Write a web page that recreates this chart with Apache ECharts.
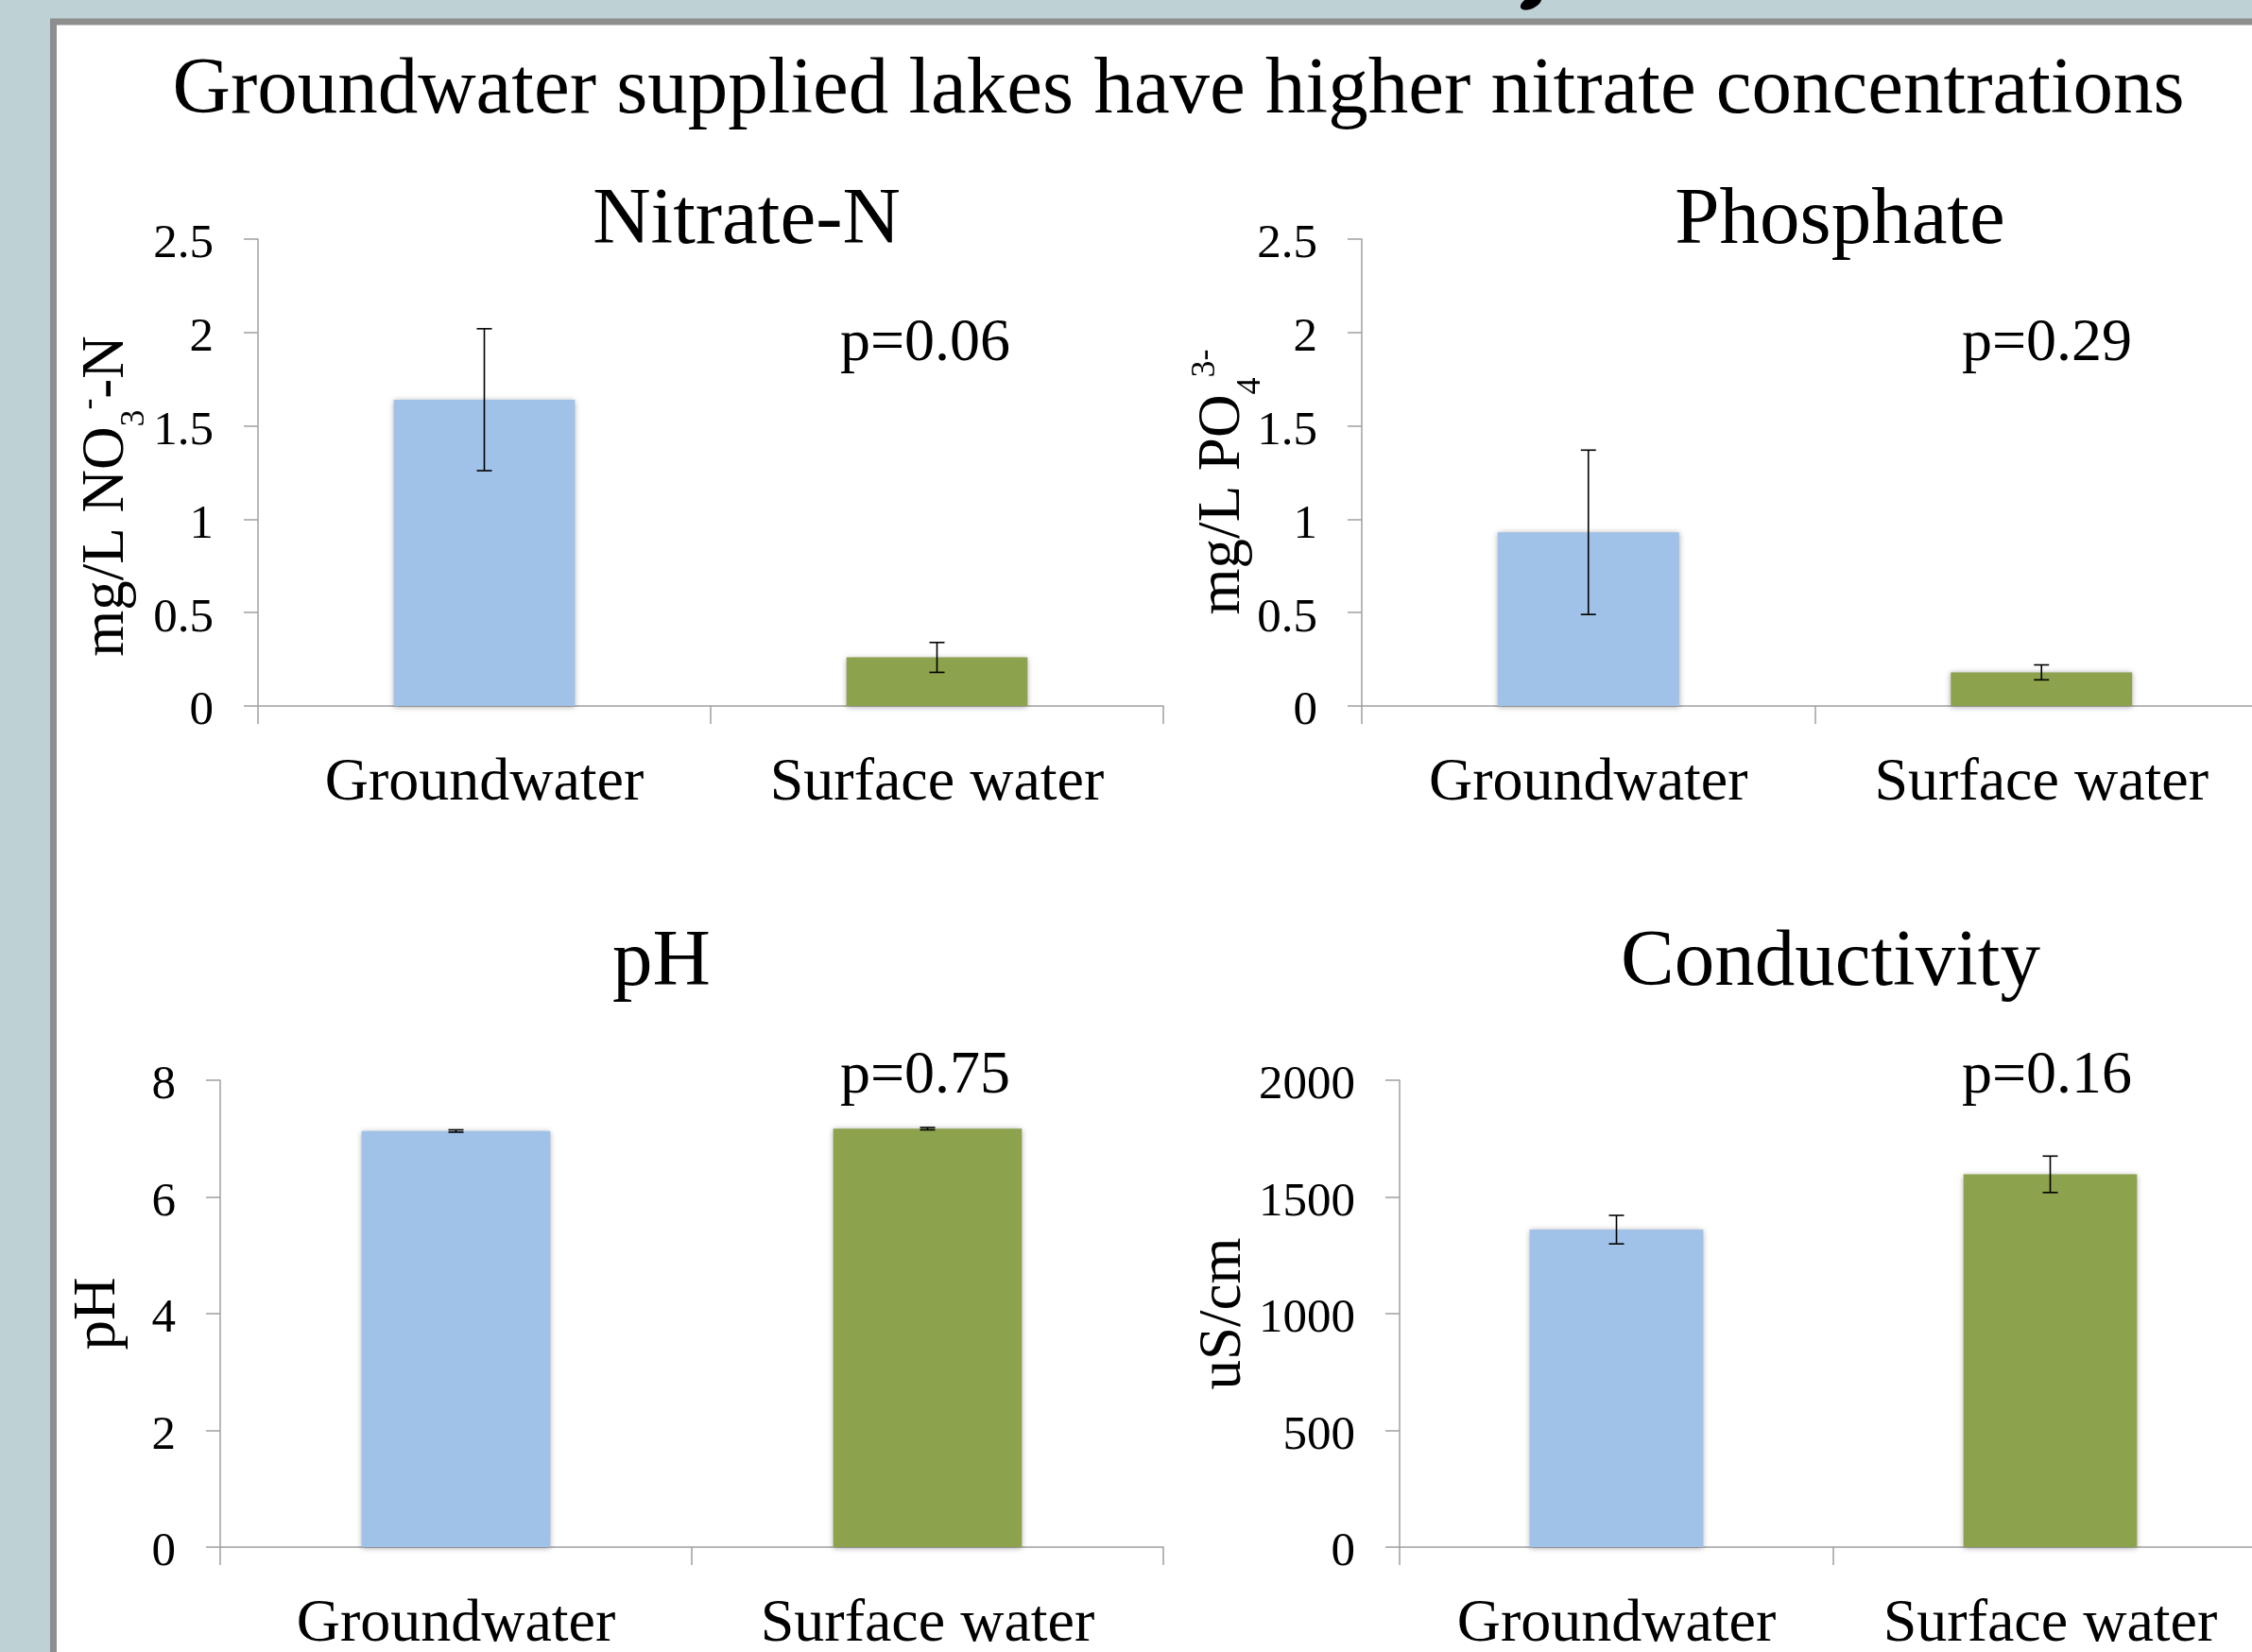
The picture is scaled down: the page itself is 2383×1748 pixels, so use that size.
<!DOCTYPE html>
<html>
<head>
<meta charset="utf-8">
<script src="https://cdn.jsdelivr.net/npm/echarts@6/dist/echarts.min.js"></script>
<style>
html, body { margin: 0; padding: 0; background: #BED1D5; }
#chart { width: 2383px; height: 1748px; }
</style>
</head>
<body>
<div id="chart"></div>
<script>
// ---------------- data ----------------
const categories = ['Groundwater', 'Surface water'];
const nitrateMean = [1.64, 0.26];
const nitrateErr = [0.38, 0.08];
const phosphateMean = [0.93, 0.18];
const phosphateErr = [0.44, 0.04];
const phMean = [7.13, 7.17];
const phErr = [0.02, 0.02];
const condMean = [1360, 1597];
const condErr = [61, 78];
const mainTitle = 'Groundwater supplied lakes have higher nitrate concentrations';
const panelTitles = ['Nitrate-N', 'Phosphate', 'pH', 'Conductivity'];
const pLabels = ['p=0.06', 'p=0.29', 'p=0.75', 'p=0.16'];
const yMax = [2.5, 2.5, 8, 2000];
const yStep = [0.5, 0.5, 2, 500];
const yNames = [
  '{a|mg/L NO}{b|3}{c|-}{a|-N}',
  '{a|mg/L PO}{b|4}{c|3-}',
  '{a|pH}',
  '{a|uS/cm}'
];

// ---------------- style / layout ----------------
const FONT = '"Liberation Serif", "Times New Roman", Times, serif';
const barColors = ['#A0C1E8', '#8CA24C'];
const axisGrey = '#A0A0A0';
const grids = [
  { left: 273, top: 253, width: 958, height: 494 },
  { left: 1441, top: 253, width: 959, height: 494 },
  { left: 233, top: 1143, width: 998, height: 494 },
  { left: 1481, top: 1143, width: 918, height: 494 }
];
const nameGaps = [128, 115, 97, 154];
const namePads = [[0, 50, 0, 0], [0, 20, 0, 0], [0, 0, 0, 0], [0, 0, 0, 0]];
const titlePos = [[790, 235], [1947, 235], [700, 1020], [1937, 1020]];
const pPos = [[979, 364], [2166, 364], [979, 1139], [2166, 1139]];

const means = [nitrateMean, phosphateMean, phMean, condMean];
const errs = [nitrateErr, phosphateErr, phErr, condErr];

const rich = {
  a: { fontFamily: FONT, fontSize: 63, lineHeight: 64, color: '#000' },
  b: { fontFamily: FONT, fontSize: 36, lineHeight: 64, color: '#000', padding: [60, 0, 0, 0] },
  c: { fontFamily: FONT, fontSize: 36, lineHeight: 64, color: '#000', padding: [0, 0, 36, 0] }
};
const tickRich = {
  v: { fontFamily: FONT, fontSize: 51, color: '#000', padding: [12, 0, 0, 0] }
};

function errRender(params, api) {
  const x = api.value(0);
  const pLo = api.coord([x, api.value(1)]);
  const pHi = api.coord([x, api.value(2)]);
  const cap = 8;
  const style = { stroke: '#000', lineWidth: 1.6 };
  return {
    type: 'group',
    children: [
      { type: 'line', shape: { x1: pLo[0], y1: pLo[1], x2: pHi[0], y2: pHi[1] }, style: style },
      { type: 'line', shape: { x1: pLo[0] - cap, y1: pLo[1], x2: pLo[0] + cap, y2: pLo[1] }, style: style },
      { type: 'line', shape: { x1: pHi[0] - cap, y1: pHi[1], x2: pHi[0] + cap, y2: pHi[1] }, style: style }
    ]
  };
}

const option = {
  animation: false,
  backgroundColor: '#BED1D5',
  textStyle: { fontFamily: FONT },
  title: [
    {
      text: mainTitle, left: 1247, top: 97, textAlign: 'center', textVerticalAlign: 'middle', padding: 0,
      textStyle: { fontFamily: FONT, fontSize: 85, fontWeight: 'normal', color: '#000' }
    }
  ].concat(panelTitles.map((t, i) => ({
    text: t, left: titlePos[i][0], top: titlePos[i][1], textAlign: 'center', textVerticalAlign: 'middle', padding: 0,
    textStyle: { fontFamily: FONT, fontSize: 85, fontWeight: 'normal', color: '#000' }
  }))),
  grid: grids.map(g => Object.assign({ containLabel: false, outerBoundsMode: 'none' }, g)),
  xAxis: grids.map((g, i) => ({
    type: 'category',
    gridIndex: i,
    data: categories,
    axisLine: { show: true, lineStyle: { color: axisGrey, width: 1.5 } },
    axisTick: { show: true, length: 19, lineStyle: { color: axisGrey, width: 1.5 } },
    axisLabel: { fontFamily: FONT, fontSize: 64, color: '#000', margin: 50, interval: 0, hideOverlap: false },
    splitLine: { show: false }
  })),
  yAxis: grids.map((g, i) => ({
    type: 'value',
    gridIndex: i,
    min: 0,
    max: yMax[i],
    interval: yStep[i],
    name: yNames[i],
    nameLocation: 'middle',
    nameGap: nameGaps[i],
    nameMoveOverlap: false,
    nameTextStyle: { rich: rich, padding: namePads[i], fontFamily: FONT, fontSize: 63, color: '#000' },
    axisLine: { show: true, lineStyle: { color: axisGrey, width: 1.5 } },
    axisTick: { show: true, length: 15, lineStyle: { color: axisGrey, width: 1.5 } },
    axisLabel: {
      fontFamily: FONT, fontSize: 51, color: '#000', margin: 47,
      formatter: v => '{v|' + String(v) + '}',
      rich: tickRich
    },
    splitLine: { show: false }
  })),
  series: [].concat.apply([], grids.map((g, i) => [
    {
      type: 'bar',
      xAxisIndex: i,
      yAxisIndex: i,
      barWidth: '40%',
      z: 2,
      data: means[i].map((v, k) => ({
        value: v,
        itemStyle: {
          color: barColors[k],
          shadowBlur: 6,
          shadowColor: 'rgba(0,0,0,0.35)',
          shadowOffsetX: 0,
          shadowOffsetY: 1
        }
      }))
    },
    {
      type: 'custom',
      xAxisIndex: i,
      yAxisIndex: i,
      z: 5,
      renderItem: errRender,
      encode: { x: 0, y: [1, 2] },
      data: means[i].map((v, k) => [k, v - errs[i][k], v + errs[i][k]])
    }
  ])),
  graphic: [
    {
      type: 'rect', z: -10, silent: true,
      shape: { x: 56.5, y: 23, width: 2500, height: 1900 },
      style: { fill: '#FFFFFF', stroke: '#8E8E8E', lineWidth: 7 }
    },
    {
      type: 'ellipse', z: -9, silent: true, x: 1620, y: 3, rotation: 0.45,
      shape: { cx: 0, cy: 0, rx: 12, ry: 6 },
      style: { fill: '#000' }
    }
  ].concat(pLabels.map((t, i) => ({
    type: 'text', x: pPos[i][0], y: pPos[i][1], z: 10, silent: true,
    style: { text: t, fontFamily: FONT, fontSize: 64, fill: '#000', textAlign: 'center', textVerticalAlign: 'middle' }
  })))
};

const chart = echarts.init(document.getElementById('chart'), null, { renderer: 'canvas', width: 2383, height: 1748 });
chart.setOption(option);
</script>
</body>
</html>
